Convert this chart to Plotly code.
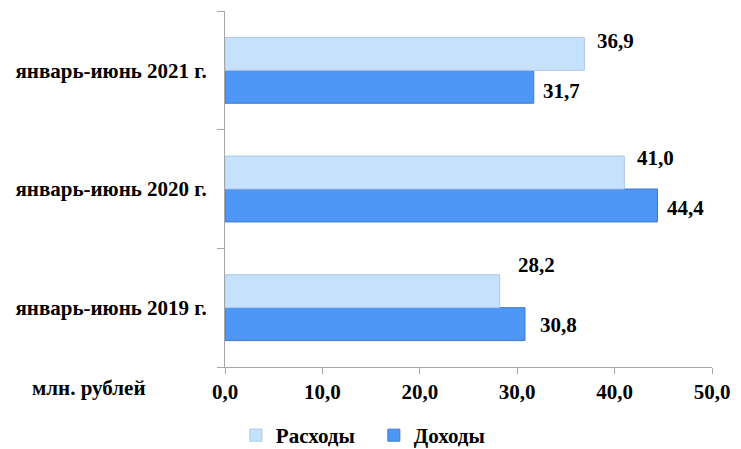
import plotly.graph_objects as go

categories = ["январь-июнь 2019 г.", "январь-июнь 2020 г.", "январь-июнь 2021 г."]
rashody = [28.2, 41.0, 36.9]
dohody = [30.8, 44.4, 31.7]
series_names = ["Расходы", "Доходы"]
x_ticks = [0, 10, 20, 30, 40, 50]
x_tick_labels = ["0,0", "10,0", "20,0", "30,0", "40,0", "50,0"]
unit_label = "млн. рублей"

def fmt(v):
    return f"{v:.1f}".replace(".", ",")

FONT = "Liberation Serif"
FS = 21
LIGHT = "#c6e1fc"
DARK = "#4f97f6"
AXIS = "#a6a6a6"

# the page body has an 8px margin
OFF = 8
EXTRA = 12  # figure extends slightly below the window so the legend sits low
W, H = 741 - OFF, 449 - OFF + EXTRA
L, R, T, B = 225 - OFF, 28.5, 11 - OFF, 82 + EXTRA
plot_w = W - L - R
plot_h = H - T - B

def px_x(page_x):
    return (page_x - OFF - L) / plot_w

def px_y(page_y):
    return (H - B - (page_y - OFF)) / plot_h

fig = go.Figure()
fig.add_trace(go.Bar(
    y=categories, x=dohody, orientation="h", name=series_names[1],
    marker=dict(color=DARK, line=dict(color="#3d79cc", width=1)),
    legendrank=2,
))
fig.add_trace(go.Bar(
    y=categories, x=rashody, orientation="h", name=series_names[0],
    marker=dict(color=LIGHT, line=dict(color="#a9c7e8", width=1)),
    legendrank=1,
))

lbl_font = dict(family=FONT, size=FS, color="black", weight="bold")
# label offsets (styling only)
light_dx, light_dy = [16, 11, 11], [43, 31, 29]
dark_dx, dark_dy = [13, 8, 7], [-17, -19, -21]
annotations = []
for i, c in enumerate(categories):
    annotations.append(dict(
        x=rashody[i], y=c, text=fmt(rashody[i]), showarrow=False,
        xanchor="left", yanchor="middle", xshift=light_dx[i], yshift=light_dy[i],
        font=lbl_font,
    ))
    annotations.append(dict(
        x=dohody[i], y=c, text=fmt(dohody[i]), showarrow=False,
        xanchor="left", yanchor="middle", xshift=dark_dx[i], yshift=dark_dy[i],
        font=lbl_font,
    ))
annotations.append(dict(
    xref="paper", yref="paper", x=px_x(89), y=px_y(388),
    xanchor="center", yanchor="middle", text=unit_label, showarrow=False,
    font=lbl_font,
))

fig.update_layout(
    width=W, height=H,
    margin=dict(l=L, r=R, t=T, b=B, autoexpand=False),
    plot_bgcolor="white", paper_bgcolor="white",
    barmode="group", bargap=0.445, bargroupgap=0.0,
    font=lbl_font,
    showlegend=True,
    legend=dict(orientation="h", x=px_x(374), xanchor="center",
                y=px_y(456), yanchor="bottom",
                font=lbl_font, itemwidth=30, traceorder="normal",
                entrywidth=93, entrywidthmode="pixels"),
    annotations=annotations,
    xaxis=dict(range=[0, 50], tickvals=x_ticks, ticktext=x_tick_labels,
               automargin=False,
               showgrid=False, zeroline=False, showline=True, linecolor=AXIS,
               linewidth=1, ticks="outside", ticklen=6, tickcolor=AXIS,
               tickfont=lbl_font),
    yaxis=dict(showgrid=False, showline=True, linecolor=AXIS, linewidth=1,
               automargin=False,
               ticks="outside", tickson="boundaries", ticklen=7, tickcolor=AXIS,
               tickfont=lbl_font, ticklabelstandoff=13),
)

fig.write_html("out.html")
